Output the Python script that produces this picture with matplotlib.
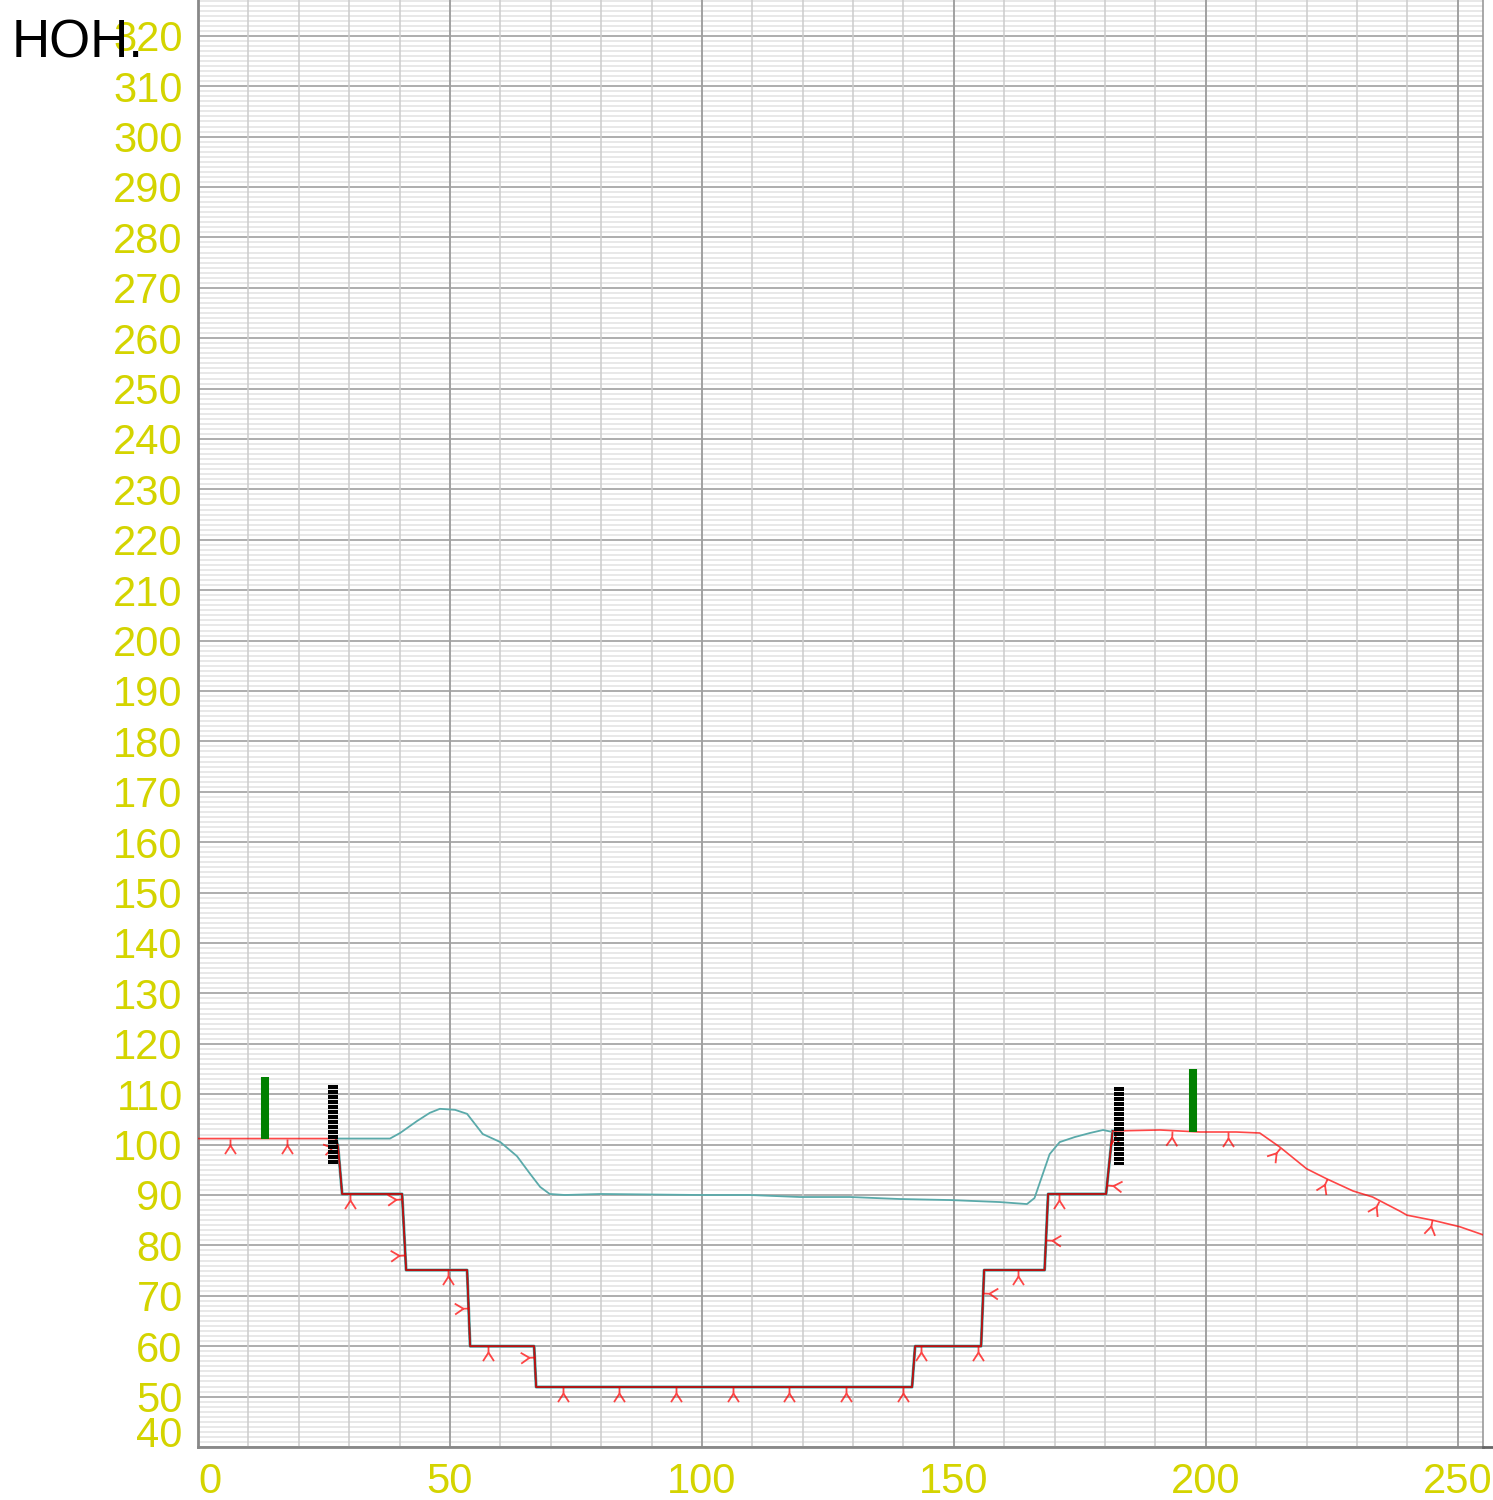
import matplotlib
matplotlib.use("Agg")
import matplotlib.pyplot as plt
import numpy as np
from matplotlib.path import Path
from matplotlib.markers import MarkerStyle
from matplotlib.lines import Line2D

plt.rcParams['font.family'] = ['Liberation Sans', 'DejaVu Sans']
plt.rcParams['lines.scale_dashes'] = False

# ground profile (red, with slope hatch marks)
ground_x = [0, 27.4, 27.8, 28.6, 40.5, 41.3, 53.4, 54.0, 66.7, 67.1, 141.7, 142.3,
            155.4, 156.0, 168.0, 168.7, 180.2, 181.5, 190.9, 198.8, 206.0, 210.7,
            214.7, 220.0, 224.0, 229.2, 233.1, 238.5, 239.9, 245.0, 250.4, 255.0]
ground_y = [101.2, 101.2, 99.5, 90.2, 90.2, 75.1, 75.1, 60.0, 60.0, 51.9, 51.9, 60.0,
            60.0, 75.1, 75.1, 90.2, 90.2, 102.7, 102.9, 102.5, 102.5, 102.3,
            99.5, 95.2, 93.2, 90.8, 89.6, 86.8, 86.0, 85.0, 83.7, 82.1]

# channel design section (dark) - same stepped section between banks
chan_x = ground_x[1:18]
chan_y = ground_y[1:18]

# water surface (teal)
water_x = [27.4, 38.1, 40.1, 43.5, 46.0, 48.0, 51.0, 53.4, 56.5, 60.0, 63.3, 65.9,
           67.9, 69.8, 72.8, 80.0, 99.6, 109.5, 119.4, 129.4, 139.3, 149.2, 159.1,
           164.5, 166.0, 169.0, 171.0, 174.0, 177.0, 179.6, 181.5]
water_y = [101.2, 101.2, 102.3, 104.7, 106.3, 107.1, 106.9, 106.1, 102.1, 100.5, 97.7, 94.2,
           91.6, 90.2, 90.0, 90.2, 90.0, 90.0, 89.6, 89.6, 89.2, 89.0, 88.6,
           88.2, 89.4, 98.1, 100.5, 101.5, 102.3, 102.9, 102.5]

# bank poles
green_x = [13.3, 197.4]
green_lo = [101.2, 102.5]
green_hi = [113.4, 115.0]
black_x = [26.8, 182.7]
black_lo = [96.2, 96.0]
black_hi = [111.8, 111.4]

mark_start = 6.4
mark_step = 11.24

xticks = [0, 50, 100, 150, 200, 250]
yticks = list(range(40, 321, 10))

fig = plt.figure(figsize=(14.93, 15), dpi=100)
ax = fig.add_axes([198/1493, 53/1500, 1285/1493, 1447/1500])
ytop = 40 + 1447/5.04
ax.set_xlim(0, 255)
ax.set_ylim(40, ytop)

ax.set_xticks(xticks)
ax.set_yticks(yticks)
ax.set_yticks(np.arange(40, 328, 1), minor=True)
ax.yaxis.grid(True, which='minor', color='#e2e2e2', lw=1.1)
ax.yaxis.grid(True, which='major', color='#a0a0a0', lw=1.2)
ax.set_axisbelow(True)
# vertical grid drawn over the fine horizontal lines
ax.vlines(np.arange(10, 256, 10), 40, ytop, color='#cccccc', lw=1.1, zorder=1)
ax.vlines(xticks[1:], 40, ytop, color='#999999', lw=1.2, zorder=1.1)
ax.tick_params(which='both', length=0)
ax.tick_params(axis='both', labelsize=30, labelcolor='#d4d400', pad=11)

ax.xaxis.get_major_ticks()[0].label1.set_horizontalalignment('left')
ax.yaxis.get_major_ticks()[0].label1.set_verticalalignment('baseline')

for s in ['left', 'bottom']:
    ax.spines[s].set_color('#888888')
    ax.spines[s].set_linewidth(2)
ax.spines['right'].set_color('#999999')
ax.spines['right'].set_linewidth(1.2)
ax.spines['top'].set_visible(False)
fig.add_artist(Line2D([1483/1493, 1], [53/1500, 53/1500], color='#666666', lw=2))

# lines
ax.plot(chan_x, chan_y, color='#5aaaaa', lw=2.2, zorder=3)
ax.plot(chan_x, chan_y, color='#333333', lw=1.3, zorder=4)
ax.plot(water_x, water_y, color='#5aaaaa', lw=1.3, zorder=4)
ax.plot(ground_x, ground_y, color='red', alpha=0.72, lw=1.2, zorder=5)

# hatch markers along the ground line, pointing at the line
verts = [(0, 0), (0, -5), (0, -5), (-4.5, -12), (0, -5), (4.5, -12)]
codes = [Path.MOVETO, Path.LINETO, Path.MOVETO, Path.LINETO, Path.MOVETO, Path.LINETO]
tick_path = Path(verts, codes)
gx = np.array(ground_x)
gy = np.array(ground_y)
seg = np.hypot(np.diff(gx), np.diff(gy))
cum = np.concatenate([[0], np.cumsum(seg)])
d = mark_start
while d < cum[-1]:
    i = np.searchsorted(cum, d, side='right') - 1
    i = min(i, len(seg) - 1)
    t = (d - cum[i]) / seg[i]
    px = gx[i] + t * (gx[i+1] - gx[i])
    py = gy[i] + t * (gy[i+1] - gy[i])
    ang = np.degrees(np.arctan2(gy[i+1] - gy[i], gx[i+1] - gx[i]))
    m = MarkerStyle(tick_path).rotated(deg=ang)
    ax.plot([px], [py], marker=m, markersize=21, markeredgewidth=1.3,
            color='red', alpha=0.72, linestyle='none', zorder=6)
    d += mark_step

# poles
for x, lo, hi in zip(green_x, green_lo, green_hi):
    ax.plot([x, x], [lo, hi], color='green', lw=5.8, solid_capstyle='butt', zorder=7)
for x, lo, hi in zip(black_x, black_lo, black_hi):
    ax.plot([x, x], [hi, lo], color='black', lw=7.2, dashes=(2.9, 0.7),
            dash_capstyle='butt', zorder=7)

fig.text(12/1493, 1 - 57/1500, 'HOH.', fontsize=38, va='baseline', color='black')

fig.savefig('out.png', dpi=100)
